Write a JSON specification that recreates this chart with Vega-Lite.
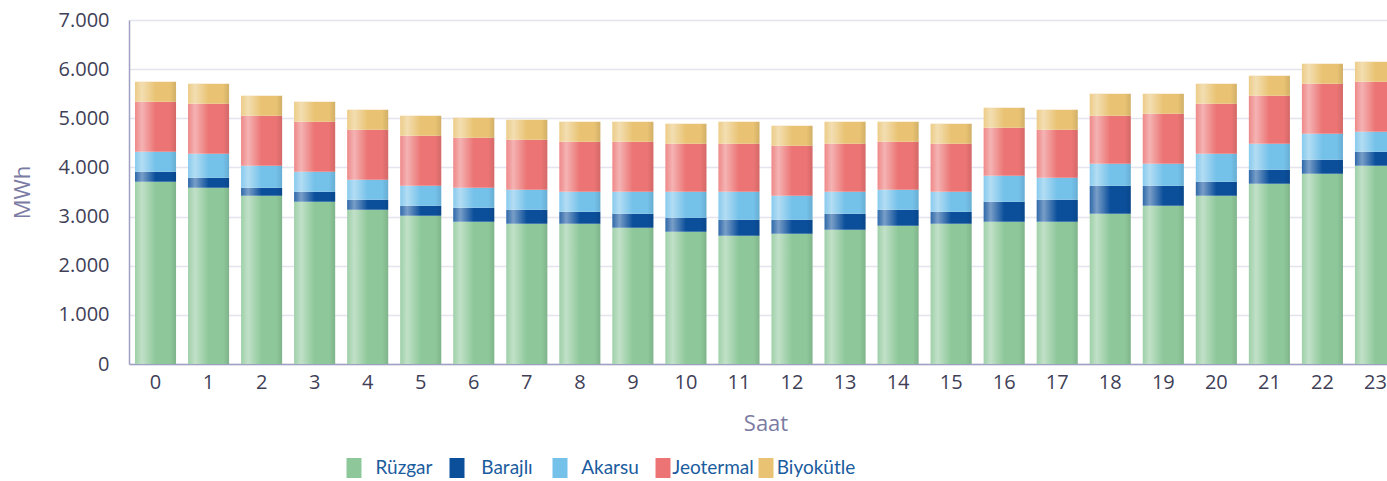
{
  "$schema": "https://vega.github.io/schema/vega-lite/v6.json",
  "autosize": {"type": "none"},
  "padding": {"left": 129, "top": 20, "right": 0, "bottom": 117},
  "width": 1258,
  "height": 344,
  "background": "white",
  "config": {
    "font": "Open Sans",
    "view": {"stroke": null},
    "axis": {
      "labelFont": "Open Sans",
      "titleFont": "Open Sans",
      "labelFontSize": 20,
      "labelColor": "#3f3f58",
      "titleColor": "#7b7ba3",
      "titleFontWeight": "normal",
      "titleFontSize": 22,
      "domainColor": "#a0a0c4",
      "domainWidth": 1.5,
      "gridColor": "#e4e4ee",
      "gridWidth": 1.5,
      "ticks": false
    }
  },
  "data": {
    "values": [
      {"saat": 0, "kaynak": "Rüzgar", "mwh": 3710}, {"saat": 0, "kaynak": "Barajlı", "mwh": 203}, {"saat": 0, "kaynak": "Akarsu", "mwh": 407}, {"saat": 0, "kaynak": "Jeotermal", "mwh": 1017}, {"saat": 0, "kaynak": "Biyokütle", "mwh": 407},
      {"saat": 1, "kaynak": "Rüzgar", "mwh": 3588}, {"saat": 1, "kaynak": "Barajlı", "mwh": 204}, {"saat": 1, "kaynak": "Akarsu", "mwh": 488}, {"saat": 1, "kaynak": "Jeotermal", "mwh": 1017}, {"saat": 1, "kaynak": "Biyokütle", "mwh": 407},
      {"saat": 2, "kaynak": "Rüzgar", "mwh": 3425}, {"saat": 2, "kaynak": "Barajlı", "mwh": 163}, {"saat": 2, "kaynak": "Akarsu", "mwh": 448}, {"saat": 2, "kaynak": "Jeotermal", "mwh": 1017}, {"saat": 2, "kaynak": "Biyokütle", "mwh": 407},
      {"saat": 3, "kaynak": "Rüzgar", "mwh": 3303}, {"saat": 3, "kaynak": "Barajlı", "mwh": 204}, {"saat": 3, "kaynak": "Akarsu", "mwh": 407}, {"saat": 3, "kaynak": "Jeotermal", "mwh": 1017}, {"saat": 3, "kaynak": "Biyokütle", "mwh": 407},
      {"saat": 4, "kaynak": "Rüzgar", "mwh": 3140}, {"saat": 4, "kaynak": "Barajlı", "mwh": 204}, {"saat": 4, "kaynak": "Akarsu", "mwh": 407}, {"saat": 4, "kaynak": "Jeotermal", "mwh": 1018}, {"saat": 4, "kaynak": "Biyokütle", "mwh": 407},
      {"saat": 5, "kaynak": "Rüzgar", "mwh": 3018}, {"saat": 5, "kaynak": "Barajlı", "mwh": 203}, {"saat": 5, "kaynak": "Akarsu", "mwh": 407}, {"saat": 5, "kaynak": "Jeotermal", "mwh": 1018}, {"saat": 5, "kaynak": "Biyokütle", "mwh": 407},
      {"saat": 6, "kaynak": "Rüzgar", "mwh": 2896}, {"saat": 6, "kaynak": "Barajlı", "mwh": 285}, {"saat": 6, "kaynak": "Akarsu", "mwh": 407}, {"saat": 6, "kaynak": "Jeotermal", "mwh": 1018}, {"saat": 6, "kaynak": "Biyokütle", "mwh": 407},
      {"saat": 7, "kaynak": "Rüzgar", "mwh": 2855}, {"saat": 7, "kaynak": "Barajlı", "mwh": 285}, {"saat": 7, "kaynak": "Akarsu", "mwh": 407}, {"saat": 7, "kaynak": "Jeotermal", "mwh": 1018}, {"saat": 7, "kaynak": "Biyokütle", "mwh": 407},
      {"saat": 8, "kaynak": "Rüzgar", "mwh": 2855}, {"saat": 8, "kaynak": "Barajlı", "mwh": 244}, {"saat": 8, "kaynak": "Akarsu", "mwh": 408}, {"saat": 8, "kaynak": "Jeotermal", "mwh": 1018}, {"saat": 8, "kaynak": "Biyokütle", "mwh": 406},
      {"saat": 9, "kaynak": "Rüzgar", "mwh": 2774}, {"saat": 9, "kaynak": "Barajlı", "mwh": 285}, {"saat": 9, "kaynak": "Akarsu", "mwh": 448}, {"saat": 9, "kaynak": "Jeotermal", "mwh": 1018}, {"saat": 9, "kaynak": "Biyokütle", "mwh": 406},
      {"saat": 10, "kaynak": "Rüzgar", "mwh": 2692}, {"saat": 10, "kaynak": "Barajlı", "mwh": 285}, {"saat": 10, "kaynak": "Akarsu", "mwh": 530}, {"saat": 10, "kaynak": "Jeotermal", "mwh": 977}, {"saat": 10, "kaynak": "Biyokütle", "mwh": 407},
      {"saat": 11, "kaynak": "Rüzgar", "mwh": 2611}, {"saat": 11, "kaynak": "Barajlı", "mwh": 326}, {"saat": 11, "kaynak": "Akarsu", "mwh": 570}, {"saat": 11, "kaynak": "Jeotermal", "mwh": 977}, {"saat": 11, "kaynak": "Biyokütle", "mwh": 447},
      {"saat": 12, "kaynak": "Rüzgar", "mwh": 2652}, {"saat": 12, "kaynak": "Barajlı", "mwh": 285}, {"saat": 12, "kaynak": "Akarsu", "mwh": 488}, {"saat": 12, "kaynak": "Jeotermal", "mwh": 1018}, {"saat": 12, "kaynak": "Biyokütle", "mwh": 407},
      {"saat": 13, "kaynak": "Rüzgar", "mwh": 2733}, {"saat": 13, "kaynak": "Barajlı", "mwh": 326}, {"saat": 13, "kaynak": "Akarsu", "mwh": 448}, {"saat": 13, "kaynak": "Jeotermal", "mwh": 977}, {"saat": 13, "kaynak": "Biyokütle", "mwh": 447},
      {"saat": 14, "kaynak": "Rüzgar", "mwh": 2815}, {"saat": 14, "kaynak": "Barajlı", "mwh": 325}, {"saat": 14, "kaynak": "Akarsu", "mwh": 407}, {"saat": 14, "kaynak": "Jeotermal", "mwh": 978}, {"saat": 14, "kaynak": "Biyokütle", "mwh": 406},
      {"saat": 15, "kaynak": "Rüzgar", "mwh": 2855}, {"saat": 15, "kaynak": "Barajlı", "mwh": 244}, {"saat": 15, "kaynak": "Akarsu", "mwh": 408}, {"saat": 15, "kaynak": "Jeotermal", "mwh": 977}, {"saat": 15, "kaynak": "Biyokütle", "mwh": 407},
      {"saat": 16, "kaynak": "Rüzgar", "mwh": 2896}, {"saat": 16, "kaynak": "Barajlı", "mwh": 407}, {"saat": 16, "kaynak": "Akarsu", "mwh": 529}, {"saat": 16, "kaynak": "Jeotermal", "mwh": 977}, {"saat": 16, "kaynak": "Biyokütle", "mwh": 407},
      {"saat": 17, "kaynak": "Rüzgar", "mwh": 2896}, {"saat": 17, "kaynak": "Barajlı", "mwh": 448}, {"saat": 17, "kaynak": "Akarsu", "mwh": 448}, {"saat": 17, "kaynak": "Jeotermal", "mwh": 977}, {"saat": 17, "kaynak": "Biyokütle", "mwh": 406},
      {"saat": 18, "kaynak": "Rüzgar", "mwh": 3059}, {"saat": 18, "kaynak": "Barajlı", "mwh": 570}, {"saat": 18, "kaynak": "Akarsu", "mwh": 448}, {"saat": 18, "kaynak": "Jeotermal", "mwh": 976}, {"saat": 18, "kaynak": "Biyokütle", "mwh": 447},
      {"saat": 19, "kaynak": "Rüzgar", "mwh": 3222}, {"saat": 19, "kaynak": "Barajlı", "mwh": 407}, {"saat": 19, "kaynak": "Akarsu", "mwh": 448}, {"saat": 19, "kaynak": "Jeotermal", "mwh": 1017}, {"saat": 19, "kaynak": "Biyokütle", "mwh": 406},
      {"saat": 20, "kaynak": "Rüzgar", "mwh": 3425}, {"saat": 20, "kaynak": "Barajlı", "mwh": 285}, {"saat": 20, "kaynak": "Akarsu", "mwh": 570}, {"saat": 20, "kaynak": "Jeotermal", "mwh": 1017}, {"saat": 20, "kaynak": "Biyokütle", "mwh": 407},
      {"saat": 21, "kaynak": "Rüzgar", "mwh": 3670}, {"saat": 21, "kaynak": "Barajlı", "mwh": 285}, {"saat": 21, "kaynak": "Akarsu", "mwh": 529}, {"saat": 21, "kaynak": "Jeotermal", "mwh": 976}, {"saat": 21, "kaynak": "Biyokütle", "mwh": 407},
      {"saat": 22, "kaynak": "Rüzgar", "mwh": 3873}, {"saat": 22, "kaynak": "Barajlı", "mwh": 285}, {"saat": 22, "kaynak": "Akarsu", "mwh": 529}, {"saat": 22, "kaynak": "Jeotermal", "mwh": 1017}, {"saat": 22, "kaynak": "Biyokütle", "mwh": 407},
      {"saat": 23, "kaynak": "Rüzgar", "mwh": 4036}, {"saat": 23, "kaynak": "Barajlı", "mwh": 285}, {"saat": 23, "kaynak": "Akarsu", "mwh": 407}, {"saat": 23, "kaynak": "Jeotermal", "mwh": 1017}, {"saat": 23, "kaynak": "Biyokütle", "mwh": 407}
    ]
  },
  "layer": [
    {
      "transform": [
        {"calculate": "indexof(['Rüzgar','Barajlı','Akarsu','Jeotermal','Biyokütle'], datum.kaynak)", "as": "sira"}
      ],
      "mark": {"type": "bar"},
      "encoding": {
        "x": {
          "field": "saat", "type": "ordinal",
          "scale": {"range": [0, 1273], "paddingInner": 0.226, "paddingOuter": 0.113},
          "axis": {"title": "Saat", "labelAngle": 0, "labelPadding": 8, "titlePadding": 21, "grid": false}
        },
        "y": {
          "field": "mwh", "type": "quantitative", "stack": "zero",
          "scale": {"domain": [0, 7000], "nice": false},
          "axis": {
            "title": "MWh", "values": [0, 1000, 2000, 3000, 4000, 5000, 6000, 7000],
            "labelExpr": "replace(format(datum.value, ','), ',', '.')",
            "labelPadding": 20, "titlePadding": 24
          }
        },
        "color": {
          "field": "kaynak", "type": "nominal",
          "sort": ["Rüzgar", "Barajlı", "Akarsu", "Jeotermal", "Biyokütle"],
          "scale": {
            "domain": ["Rüzgar", "Barajlı", "Akarsu", "Jeotermal", "Biyokütle"],
            "range": ["#8ec89a", "#0b4f9b", "#74c1ea", "#ec7474", "#e9c373"]
          },
          "legend": {
            "title": null,
            "orient": "none",
            "legendX": 215,
            "legendY": 438,
            "direction": "horizontal",
            "columns": 5,
            "gridAlign": "all",
            "columnPadding": 2,
            "symbolType": "M-0.75,-1H0.75V1H-0.75Z",
            "symbolSize": 400,
            "symbolStrokeWidth": 0,
            "symbolOpacity": 1,
            "labelFont": "Lato",
            "labelFontSize": 19,
            "labelColor": "#1b5c9e",
            "labelAlign": "center",
            "labelOffset": 40,
            "labelLimit": 200
          }
        },
        "order": {"field": "sira", "type": "quantitative", "sort": "ascending"}
      }
    },
    {
      "mark": {
        "type": "bar",
        "fill": {
          "gradient": "linear", "x1": 0, "x2": 1, "y1": 0, "y2": 0,
          "stops": [
            {"offset": 0, "color": "rgba(255,255,255,0.15)"},
            {"offset": 0.17, "color": "rgba(255,255,255,0.45)"},
            {"offset": 0.5, "color": "rgba(255,255,255,0)"},
            {"offset": 0.85, "color": "rgba(0,0,0,0)"},
            {"offset": 1, "color": "rgba(0,0,0,0.1)"}
          ]
        }
      },
      "encoding": {
        "x": {"field": "saat", "type": "ordinal"},
        "y": {"aggregate": "sum", "field": "mwh", "type": "quantitative"}
      }
    }
  ]
}
